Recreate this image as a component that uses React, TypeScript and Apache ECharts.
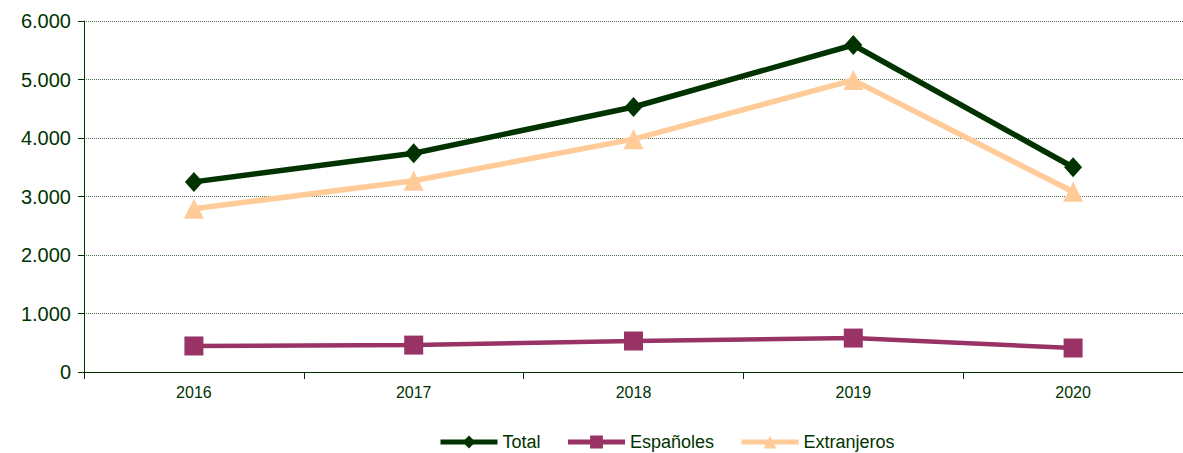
import React, { useEffect, useRef } from "react";
import * as echarts from "echarts";

const categories = ["2016", "2017", "2018", "2019", "2020"];
const totalValues = [3250, 3740, 4530, 5590, 3500];
const espanolesValues = [445, 460, 530, 580, 410];
const extranjerosValues = [2790, 3270, 3980, 4990, 3080];
const seriesNames = ["Total", "Españoles", "Extranjeros"];

const DARK = "#003300";
const PURPLE = "#993366";
const PEACH = "#FFCC99";

export default function App() {
  const ref = useRef<HTMLDivElement>(null);
  useEffect(() => {
    if (!ref.current) return;
    const chart = echarts.init(ref.current, undefined, { renderer: "svg" });
    chart.setOption({
      animation: false,
      backgroundColor: "#ffffff",
      textStyle: { fontFamily: "Liberation Sans, Arial, sans-serif" },
      grid: { left: 84, right: -1, top: 21, bottom: 81, containLabel: false },
      legend: {
        left: 438,
        top: 433,
        padding: 0,
        itemWidth: 57,
        itemHeight: 16,
        itemGap: 25,
        textStyle: { fontSize: 18, color: DARK, fontFamily: "Liberation Sans, Arial, sans-serif" },
        data: [
          { name: seriesNames[0], lineStyle: { width: 5 } },
          { name: seriesNames[1], lineStyle: { width: 5 } },
          { name: seriesNames[2], lineStyle: { width: 5 } },
        ],
      },
      xAxis: {
        type: "category",
        data: categories,
        boundaryGap: true,
        axisLine: { lineStyle: { color: DARK, width: 1 } },
        axisTick: { show: true, length: 7, lineStyle: { color: DARK } },
        axisLabel: { fontSize: 16, color: DARK, margin: 12 },
      },
      yAxis: {
        type: "value",
        min: 0,
        max: 6000,
        interval: 1000,
        axisLine: { show: true, lineStyle: { color: DARK, width: 1 } },
        axisTick: { show: true, length: 6, lineStyle: { color: DARK } },
        axisLabel: {
          fontSize: 20,
          color: DARK,
          margin: 13,
          formatter: (v: number) => (v === 0 ? "0" : v.toString().replace(/\B(?=(\d{3})+(?!\d))/g, ".")),
        },
        splitLine: { show: true, lineStyle: { color: "#4f6f4f", type: "dotted", width: 1 } },
      },
      series: [
        {
          name: seriesNames[0],
          type: "line",
          data: totalValues,
          symbol: "diamond",
          symbolSize: [18, 20],
          lineStyle: { color: DARK, width: 5.5 },
          itemStyle: { color: DARK },
          z: 4,
        },
        {
          name: seriesNames[1],
          type: "line",
          data: espanolesValues,
          symbol: "rect",
          symbolSize: 19,
          lineStyle: { color: PURPLE, width: 4.5 },
          itemStyle: { color: PURPLE },
          z: 3,
        },
        {
          name: seriesNames[2],
          type: "line",
          data: extranjerosValues,
          symbol: "triangle",
          symbolSize: 20,
          lineStyle: { color: PEACH, width: 5.5 },
          itemStyle: { color: PEACH },
          z: 2,
        },
      ],
    });
    return () => chart.dispose();
  }, []);
  return (
    <div
      ref={ref}
      style={{ position: "fixed", left: 0, top: 0, width: 1183, height: 453 }}
    />
  );
}
